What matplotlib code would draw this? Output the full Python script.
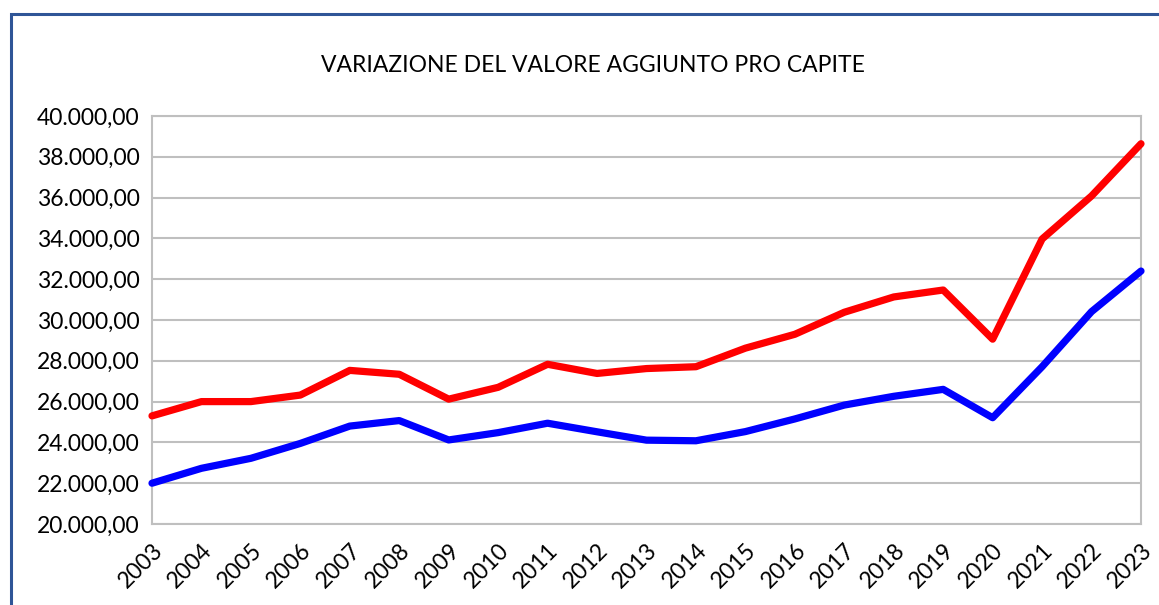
import matplotlib
matplotlib.use("Agg")
import matplotlib.pyplot as plt
from matplotlib.ticker import FuncFormatter, MultipleLocator
from matplotlib.lines import Line2D

years = list(range(2003, 2024))
red_values = [25300, 26000, 26000, 26320, 27530, 27340, 26120, 26700, 27830, 27380,
              27620, 27710, 28620, 29300, 30380, 31130, 31470, 29060, 33970, 36080, 38640]
blue_values = [22000, 22730, 23220, 23950, 24800, 25070, 24120, 24480, 24940, 24520,
               24110, 24080, 24530, 25150, 25830, 26260, 26600, 25210, 27710, 30410, 32400]
title = "VARIAZIONE DEL VALORE AGGIUNTO PRO CAPITE"

plt.rcParams['font.family'] = ['Lato', 'DejaVu Sans']

W, H = 1159, 605
fig = plt.figure(figsize=(W / 100, H / 100), dpi=100)
fig.patch.set_facecolor('white')

# outer frame (left and top edges only visible)
fx, fy = 10.5 / W, 1 - 13.5 / H
fig.lines.append(Line2D([fx, fx, 1.05], [-0.05, fy, fy], transform=fig.transFigure,
                        color='#2F5597', linewidth=2.2, solid_joinstyle='miter'))

left, right, top, bottom = 152, 1141, 116, 524
ax = fig.add_axes([left / W, 1 - bottom / H, (right - left) / W, (bottom - top) / H])

x = list(range(len(years)))
ax.plot(x, red_values, color='#FF0000', linewidth=5.2, solid_capstyle='round',
        solid_joinstyle='round', zorder=3, clip_on=False)
ax.plot(x, blue_values, color='#0000FF', linewidth=5.2, solid_capstyle='round',
        solid_joinstyle='round', zorder=3, clip_on=False)

ax.set_xlim(0, len(years) - 1)
ax.set_ylim(20000, 40000)
ax.yaxis.set_major_locator(MultipleLocator(2000))


def fmt(v, pos):
    s = f"{v:,.2f}"
    return s.replace(",", "X").replace(".", ",").replace("X", ".")


ax.yaxis.set_major_formatter(FuncFormatter(fmt))
ax.set_xticks(x)
ax.set_xticklabels([str(y) for y in years], rotation=45, ha='right', rotation_mode='anchor')

ax.grid(axis='y', color='#BFBFBF', linewidth=1.5)
ax.set_axisbelow(True)
for s in ax.spines.values():
    s.set_color('#BFBFBF')
    s.set_linewidth(1.5)

ax.tick_params(axis='both', length=0, labelsize=16.5, colors='black')
ax.tick_params(axis='y', pad=9)
ax.tick_params(axis='x', pad=11)

fig.text(593 / W, 1 - 66 / H, title, ha='center', va='center', fontsize=16.5, color='black')

fig.savefig("out.png", dpi=100, facecolor='white')
